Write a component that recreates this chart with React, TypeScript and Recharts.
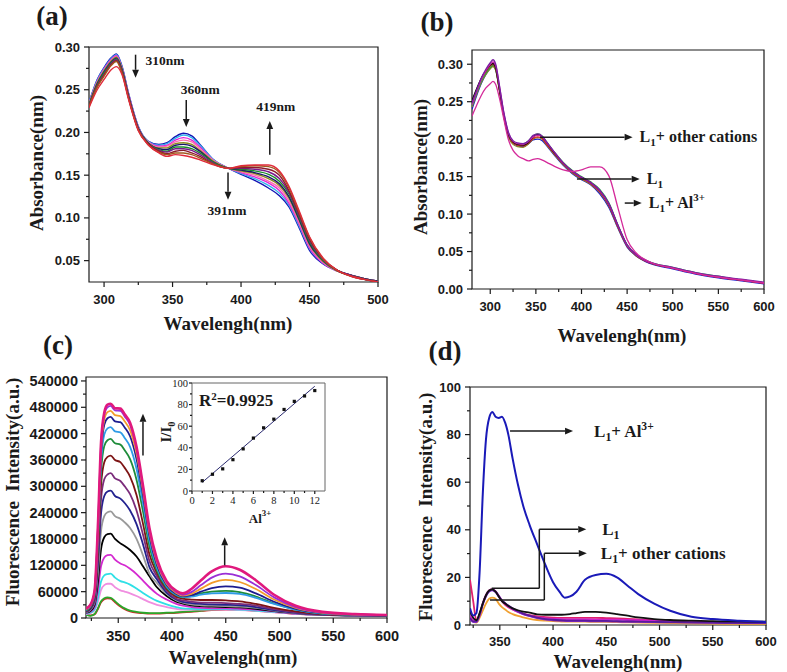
import React from "react";
import {
  LineChart,
  ComposedChart,
  Line,
  Scatter,
  XAxis,
  YAxis,
  ReferenceLine,
  ReferenceArea,
} from "recharts";

const SERIF = '"Liberation Serif", "Times New Roman", Times, serif';
const SANS = '"Liberation Sans", Arial, Helvetica, sans-serif';
const INK = "#1a1a1a";

// ---------- (a) absorbance titration ----------
const A_WL = [289, 295, 300, 305, 309, 313, 318, 325, 332, 340, 346, 352, 358, 364, 370, 380, 391, 400, 410, 420, 428, 435, 442, 450, 460, 470, 480, 490, 500];
const A_BLUE = [0.235, 0.262, 0.276, 0.287, 0.292, 0.278, 0.245, 0.207, 0.19, 0.186, 0.188, 0.195, 0.199, 0.196, 0.186, 0.168, 0.158, 0.151, 0.144, 0.135, 0.126, 0.113, 0.09, 0.062, 0.046, 0.038, 0.033, 0.029, 0.026];
const A_CYAN = [0.235, 0.261, 0.275, 0.286, 0.291, 0.277, 0.244, 0.207, 0.19, 0.185, 0.187, 0.193, 0.197, 0.194, 0.185, 0.168, 0.158, 0.152, 0.146, 0.138, 0.129, 0.115, 0.092, 0.064, 0.047, 0.038, 0.033, 0.029, 0.026];
const A_MAGENTA = [0.234, 0.26, 0.274, 0.285, 0.29, 0.276, 0.244, 0.206, 0.189, 0.184, 0.185, 0.191, 0.194, 0.191, 0.183, 0.167, 0.158, 0.153, 0.148, 0.141, 0.132, 0.117, 0.094, 0.065, 0.047, 0.038, 0.033, 0.029, 0.026];
const A_PINK = [0.233, 0.259, 0.273, 0.284, 0.289, 0.275, 0.243, 0.206, 0.189, 0.183, 0.184, 0.189, 0.191, 0.189, 0.181, 0.167, 0.158, 0.154, 0.15, 0.143, 0.135, 0.12, 0.096, 0.067, 0.048, 0.038, 0.033, 0.029, 0.026];
const A_OLIVE = [0.233, 0.258, 0.272, 0.283, 0.288, 0.275, 0.242, 0.205, 0.188, 0.182, 0.182, 0.187, 0.188, 0.186, 0.179, 0.166, 0.158, 0.155, 0.152, 0.146, 0.138, 0.123, 0.099, 0.069, 0.049, 0.038, 0.033, 0.029, 0.026];
const A_NAVY = [0.232, 0.257, 0.271, 0.282, 0.287, 0.274, 0.242, 0.205, 0.188, 0.181, 0.18, 0.185, 0.186, 0.184, 0.178, 0.165, 0.158, 0.156, 0.153, 0.148, 0.14, 0.125, 0.1, 0.07, 0.05, 0.039, 0.033, 0.029, 0.026];
const A_GREEN = [0.232, 0.256, 0.27, 0.281, 0.286, 0.273, 0.241, 0.204, 0.188, 0.18, 0.178, 0.183, 0.183, 0.181, 0.176, 0.165, 0.158, 0.157, 0.155, 0.151, 0.143, 0.128, 0.102, 0.072, 0.05, 0.039, 0.033, 0.028, 0.025];
const A_PURPLE = [0.231, 0.255, 0.268, 0.28, 0.285, 0.272, 0.24, 0.204, 0.187, 0.179, 0.177, 0.181, 0.181, 0.179, 0.174, 0.164, 0.158, 0.158, 0.157, 0.154, 0.146, 0.13, 0.104, 0.074, 0.051, 0.039, 0.033, 0.028, 0.025];
const A_WINE = [0.231, 0.254, 0.267, 0.279, 0.284, 0.271, 0.24, 0.203, 0.187, 0.178, 0.175, 0.178, 0.179, 0.176, 0.172, 0.163, 0.158, 0.159, 0.159, 0.157, 0.15, 0.132, 0.106, 0.075, 0.052, 0.039, 0.032, 0.028, 0.025];
const A_BROWN = [0.23, 0.253, 0.266, 0.278, 0.283, 0.27, 0.239, 0.203, 0.186, 0.177, 0.174, 0.176, 0.176, 0.174, 0.17, 0.163, 0.158, 0.16, 0.161, 0.16, 0.153, 0.135, 0.108, 0.077, 0.052, 0.039, 0.032, 0.028, 0.025];
const A_RED = [0.229, 0.25, 0.262, 0.273, 0.277, 0.268, 0.238, 0.202, 0.186, 0.176, 0.172, 0.174, 0.173, 0.171, 0.168, 0.162, 0.158, 0.161, 0.162, 0.162, 0.155, 0.137, 0.11, 0.078, 0.053, 0.039, 0.032, 0.028, 0.025];
const A_SERIES = [A_BLUE, A_CYAN, A_MAGENTA, A_PINK, A_OLIVE, A_NAVY, A_GREEN, A_PURPLE, A_WINE, A_BROWN, A_RED];
const A_COLORS = ["#1414b4", "#2fb4ec", "#e025d8", "#ff6fb0", "#8c8c1e", "#16166e", "#1a8c2a", "#7a1a8c", "#8c1a2a", "#a05a1e", "#e02a3a"];
const A_X_MAJOR = [300, 350, 400, 450, 500];
const A_X_MINOR = [325, 375, 425, 475];
const A_Y_MAJOR = [0.05, 0.1, 0.15, 0.2, 0.25, 0.3];
const A_Y_MINOR = [0.075, 0.125, 0.175, 0.225, 0.275];

// ---------- (b) absorbance, selectivity ----------
const B_WL = [280, 285, 290, 295, 300, 303, 306, 310, 315, 320, 325, 330, 336, 342, 347, 352, 357, 362, 370, 380, 390, 400, 410, 420, 430, 440, 450, 460, 475, 500, 525, 550, 575, 600];
const B_BLUE = [0.24, 0.258, 0.274, 0.286, 0.295, 0.298, 0.293, 0.267, 0.232, 0.206, 0.195, 0.191, 0.19, 0.194, 0.199, 0.2, 0.198, 0.191, 0.179, 0.165, 0.154, 0.146, 0.139, 0.127, 0.109, 0.081, 0.056, 0.044, 0.034, 0.027, 0.02, 0.015, 0.011, 0.007];
const B_OLIVE = [0.243, 0.26, 0.275, 0.286, 0.294, 0.297, 0.292, 0.265, 0.229, 0.203, 0.193, 0.19, 0.189, 0.194, 0.2, 0.202, 0.2, 0.192, 0.18, 0.166, 0.155, 0.147, 0.14, 0.129, 0.111, 0.082, 0.057, 0.044, 0.035, 0.028, 0.021, 0.016, 0.012, 0.008];
const B_GREEN = [0.245, 0.262, 0.277, 0.288, 0.296, 0.299, 0.293, 0.266, 0.23, 0.205, 0.196, 0.193, 0.193, 0.198, 0.204, 0.207, 0.204, 0.196, 0.183, 0.169, 0.158, 0.15, 0.143, 0.133, 0.115, 0.085, 0.059, 0.046, 0.036, 0.029, 0.022, 0.017, 0.012, 0.008];
const B_RED = [0.25, 0.266, 0.28, 0.29, 0.298, 0.3, 0.294, 0.266, 0.23, 0.205, 0.195, 0.192, 0.191, 0.195, 0.201, 0.203, 0.201, 0.193, 0.181, 0.167, 0.156, 0.148, 0.141, 0.13, 0.112, 0.083, 0.058, 0.045, 0.035, 0.028, 0.021, 0.016, 0.012, 0.008];
const B_BLACK = [0.252, 0.267, 0.281, 0.291, 0.299, 0.301, 0.295, 0.267, 0.231, 0.206, 0.196, 0.193, 0.192, 0.196, 0.203, 0.206, 0.203, 0.195, 0.182, 0.168, 0.157, 0.149, 0.142, 0.131, 0.113, 0.084, 0.058, 0.045, 0.035, 0.028, 0.021, 0.016, 0.012, 0.008];
const B_MAGENTA = [0.246, 0.263, 0.279, 0.291, 0.3, 0.303, 0.298, 0.271, 0.234, 0.208, 0.197, 0.194, 0.193, 0.197, 0.203, 0.205, 0.203, 0.195, 0.183, 0.168, 0.157, 0.149, 0.142, 0.131, 0.113, 0.084, 0.058, 0.045, 0.035, 0.028, 0.021, 0.016, 0.012, 0.008];
const B_PURPLE = [0.248, 0.265, 0.281, 0.293, 0.302, 0.306, 0.3, 0.272, 0.235, 0.209, 0.198, 0.195, 0.194, 0.198, 0.205, 0.207, 0.204, 0.196, 0.183, 0.168, 0.157, 0.149, 0.142, 0.132, 0.114, 0.085, 0.059, 0.046, 0.036, 0.029, 0.022, 0.017, 0.013, 0.009];
const B_AL = [0.231, 0.245, 0.258, 0.268, 0.274, 0.277, 0.273, 0.255, 0.226, 0.199, 0.185, 0.178, 0.174, 0.171, 0.173, 0.174, 0.172, 0.169, 0.164, 0.159, 0.157, 0.159, 0.163, 0.163, 0.151, 0.108, 0.066, 0.048, 0.036, 0.028, 0.021, 0.016, 0.012, 0.008];
const B_SERIES = [B_BLUE, B_OLIVE, B_GREEN, B_RED, B_BLACK, B_MAGENTA, B_PURPLE, B_AL];
const B_COLORS = ["#1a1ad0", "#8a8a20", "#22aa44", "#dd2222", "#111111", "#cc22aa", "#7b1fa2", "#d42a9a"];
const B_X_MAJOR = [300, 350, 400, 450, 500, 550, 600];
const B_X_MINOR = [325, 375, 425, 475, 525, 575];
const B_Y_MAJOR = [0, 0.05, 0.1, 0.15, 0.2, 0.25, 0.3];
const B_Y_MINOR = [0.025, 0.075, 0.125, 0.175, 0.225, 0.275];

// ---------- (c) fluorescence titration ----------
const C_WL = [320, 324, 328, 331, 334, 337, 340, 343, 347, 352, 356, 361, 367, 373, 379, 386, 395, 404, 410, 418, 427, 437, 450, 463, 478, 495, 515, 540, 570, 600];
const C_RED2 = [10000, 6000, 8000, 20000, 36000, 43000, 45000, 44000, 36000, 26000, 20000, 15000, 12000, 11000, 10000, 10000, 11000, 12000, 13000, 14000, 16000, 18000, 19000, 18500, 16500, 13500, 9500, 7000, 5500, 5000];
const C_GREEN2 = [8000, 5000, 9000, 22000, 38000, 45000, 47000, 46000, 38000, 28000, 22000, 17000, 14000, 12000, 11000, 11000, 12000, 13000, 14000, 15000, 17000, 19000, 20000, 19000, 17000, 14000, 10000, 7000, 5500, 5000];
const C_PINK = [9000, 11000, 17000, 36000, 64000, 75000, 78000, 78000, 70000, 63000, 60000, 56000, 50000, 43000, 36000, 30000, 25000, 21000, 19000, 19000, 19000, 19000, 19000, 18000, 16000, 13000, 9500, 7000, 5500, 5000];
const C_CYAN = [10000, 12000, 20000, 45000, 83000, 97000, 100000, 101000, 92000, 84000, 81000, 76000, 67000, 57000, 48000, 39000, 31000, 25000, 22000, 21000, 20000, 20000, 20000, 19000, 17000, 14000, 10000, 7000, 5500, 5000];
const C_MAGENTA = [11000, 14000, 25000, 62000, 118000, 138000, 143000, 144000, 133000, 124000, 120000, 112000, 100000, 85000, 70000, 55000, 42000, 32000, 28000, 25000, 23000, 22000, 22000, 21000, 19000, 15000, 10000, 7000, 5500, 5000];
const C_BLACK = [12000, 16000, 30000, 80000, 157000, 184000, 191000, 192000, 180000, 170000, 164000, 155000, 140000, 118000, 95000, 70000, 50000, 37000, 33000, 29000, 27000, 26000, 25000, 24000, 21000, 16000, 11000, 7500, 6000, 5000];
const C_GRAY = [13000, 18000, 35000, 100000, 198000, 232000, 241000, 243000, 232000, 226000, 218000, 205000, 180000, 143000, 101000, 80000, 55000, 40000, 35000, 31000, 29000, 28000, 27000, 26000, 23000, 17000, 11000, 7500, 6000, 5000];
const C_NAVY2 = [14000, 20000, 40000, 120000, 238000, 278000, 288000, 290000, 278000, 272000, 262000, 245000, 214000, 168000, 116000, 88000, 58000, 42000, 37000, 34000, 32000, 31000, 30000, 29000, 25000, 18000, 12000, 8000, 6000, 5500];
const C_PURPLE = [15000, 22000, 44000, 136000, 270000, 316000, 327000, 330000, 318000, 312000, 300000, 282000, 245000, 190000, 130000, 95000, 62000, 44000, 40000, 37000, 35000, 35000, 34000, 32000, 28000, 20000, 13000, 8500, 6500, 5500];
const C_WINE = [16000, 23000, 48000, 152000, 303000, 355000, 367000, 370000, 360000, 355000, 342000, 322000, 280000, 215000, 145000, 102000, 66000, 48000, 44000, 42000, 41000, 41000, 40000, 38000, 32000, 23000, 15000, 9000, 7000, 6000];
const C_GREEN = [17000, 25000, 52000, 168000, 334000, 392000, 405000, 408000, 398000, 395000, 382000, 362000, 315000, 243000, 163000, 108000, 69000, 52000, 47000, 50000, 56000, 60000, 62000, 59000, 49000, 33000, 19000, 10000, 7500, 6000];
const C_SKY = [18000, 26000, 55000, 178000, 355000, 418000, 432000, 435000, 425000, 423000, 410000, 390000, 340000, 262000, 176000, 114000, 72000, 53000, 48000, 49000, 53000, 56000, 57000, 55000, 46000, 32000, 19000, 10000, 7500, 6000];
const C_NAVY = [19000, 27000, 58000, 188000, 375000, 440000, 455000, 458000, 448000, 446000, 434000, 414000, 362000, 280000, 188000, 121000, 75000, 55000, 50000, 52000, 60000, 68000, 72000, 69000, 56000, 37000, 21000, 11000, 8000, 6000];
const C_ORANGE = [20000, 28000, 60000, 195000, 385000, 452000, 469000, 472000, 462000, 460000, 448000, 428000, 375000, 290000, 195000, 126000, 78000, 57000, 51000, 55000, 67000, 80000, 87000, 82000, 66000, 42000, 23000, 12000, 8000, 6500];
const C_VIOLET = [21000, 29000, 62000, 200000, 395000, 463000, 480000, 483000, 473000, 472000, 459000, 440000, 385000, 298000, 200000, 130000, 81000, 59000, 53000, 59000, 75000, 92000, 101000, 95000, 75000, 47000, 25000, 13000, 8500, 6500];
const C_ROSE = [22000, 30000, 63000, 205000, 400000, 468000, 486000, 488000, 478000, 477000, 464000, 445000, 390000, 302000, 205000, 134000, 84000, 62000, 56000, 66000, 86000, 106000, 118000, 110000, 86000, 53000, 28000, 14000, 9000, 7000];
const C_SERIES = [C_RED2, C_GREEN2, C_PINK, C_CYAN, C_MAGENTA, C_BLACK, C_GRAY, C_NAVY2, C_PURPLE, C_WINE, C_GREEN, C_SKY, C_NAVY, C_ORANGE, C_VIOLET, C_ROSE];
const C_COLORS = ["#d22a2a", "#2aa82a", "#f08ee0", "#2fe0e6", "#d42ad0", "#000000", "#9a9a9a", "#22228f", "#7b2c7b", "#7d1414", "#1e8c3a", "#2e9be6", "#1c1c8f", "#f39c2a", "#9a2fd6", "#e0197d"];
const C_X_MAJOR = [350, 400, 450, 500, 550, 600];
const C_X_MINOR = [325, 375, 425, 475, 525, 575];
const C_Y_MAJOR = [0, 60000, 120000, 180000, 240000, 300000, 360000, 420000, 480000, 540000];
const C_Y_MINOR = [30000, 90000, 150000, 210000, 270000, 330000, 390000, 450000, 510000];

// inset: I/I0 against Al3+
const INSET_X = [1, 2, 3, 4, 5, 6, 7, 8, 9, 10, 11, 12];
const INSET_Y = [9.5, 15.5, 20.5, 29, 39, 49, 58.5, 66.5, 75.5, 83, 88, 93];
const FIT_X = [1, 12];
const FIT_Y = [8, 97];
const IN_X_MAJOR = [0, 2, 4, 6, 8, 10, 12];
const IN_X_MINOR = [1, 3, 5, 7, 9, 11];
const IN_Y_MAJOR = [0, 20, 40, 60, 80, 100];
const IN_Y_MINOR = [10, 30, 50, 70, 90];

// ---------- (d) fluorescence, selectivity ----------
const D_WL = [322, 325, 328, 331, 334, 337, 340, 343, 346, 349, 352, 355, 358, 362, 367, 372, 378, 385, 393, 400, 406, 411, 416, 422, 430, 440, 450, 460, 470, 480, 495, 510, 530, 550, 575, 600];
const D_ORANGE = [3, 1.5, 1, 3, 6, 9, 11, 11.5, 11, 9, 7.5, 6.5, 5.5, 4.6, 3.8, 3.2, 2.6, 2.1, 1.8, 1.6, 1.5, 1.4, 1.4, 1.4, 1.4, 1.3, 1.3, 1.2, 1.1, 1, 0.9, 0.8, 0.7, 0.6, 0.5, 0.5];
const D_ROSE = [19, 10, 2, 4, 9, 12.5, 14.5, 15, 14, 12, 10, 8.5, 7.5, 6.5, 5.5, 4.8, 4.1, 3.6, 3.3, 3.1, 3, 3, 3, 3, 3, 3, 2.9, 2.8, 2.6, 2.4, 2.1, 1.8, 1.5, 1.3, 1.2, 1.1];
const D_MAGENTA = [4, 2, 1.5, 4.5, 9, 12.5, 14.5, 15, 14.2, 12.3, 10.3, 9, 7.8, 6.6, 5.5, 4.6, 3.8, 3.2, 2.8, 2.6, 2.5, 2.4, 2.4, 2.4, 2.4, 2.3, 2.3, 2.2, 2.1, 2, 1.8, 1.6, 1.4, 1.2, 1.1, 1];
const D_VIOLET = [2.5, 1.2, 1.2, 4, 8.5, 12, 14, 14.6, 13.8, 12, 10.2, 9, 8, 6.8, 5.6, 4.6, 3.7, 2.9, 2.3, 2, 1.8, 1.7, 1.6, 1.6, 1.6, 1.5, 1.5, 1.4, 1.3, 1.3, 1.2, 1.1, 1, 0.9, 0.8, 0.8];
const D_PURPLE = [3, 1.5, 1.5, 4.5, 9, 12.3, 14.2, 14.8, 14, 12.2, 10.4, 9.2, 8.2, 7, 5.8, 4.8, 3.9, 3.1, 2.5, 2.2, 2, 1.9, 1.8, 1.8, 1.8, 1.7, 1.7, 1.6, 1.5, 1.4, 1.3, 1.2, 1.1, 1, 0.9, 0.9];
const D_L1 = [6, 3, 2, 5, 9, 12.5, 14.5, 15, 14, 12, 10, 9, 8, 7, 6.2, 5.6, 5.2, 4.5, 4.3, 4.3, 4.3, 4.4, 4.6, 5, 5.5, 5.5, 5.2, 4.6, 3.9, 3.2, 2.5, 2.1, 1.8, 1.6, 1.5, 1.4];
const D_AL = [7, 4, 5, 22, 55, 78, 87, 89.5, 87.5, 87, 87.5, 85, 80, 70, 59, 50, 42, 34, 25, 18, 14, 11.5, 12, 14, 19, 21, 21.5, 20, 16.5, 13, 9, 6, 3.5, 2.5, 1.8, 1.3];
const D_SERIES = [D_ORANGE, D_ROSE, D_MAGENTA, D_VIOLET, D_PURPLE, D_L1, D_AL];
const D_COLORS = ["#f0a030", "#e0206e", "#cc22cc", "#8a30d0", "#5a1a9a", "#111111", "#1a1ab8"];
const D_X_MAJOR = [350, 400, 450, 500, 550, 600];
const D_X_MINOR = [325, 375, 425, 475, 525, 575];
const D_Y_MAJOR = [0, 20, 40, 60, 80, 100];
const D_Y_MINOR = [10, 30, 50, 70, 90];

// ---------- helpers ----------
const toRows = (wl: number[], series: number[][]) =>
  wl.map((w, i) => {
    const r: Record<string, number> = { wl: w };
    series.forEach((s, k) => (r["s" + k] = s[i]));
    return r;
  });

const allTicks = (a: number[], b: number[]) => [...a, ...b].sort((p, q) => p - q);

function BottomTick(props: any) {
  const { x, y, payload, majors, fs = 13, font = SANS, weight = 700, len = 5, minorLen = 3, base = 22 } = props;
  const v = payload.value;
  const major = majors.includes(v);
  return (
    <g>
      <line x1={x} x2={x} y1={y} y2={y + (major ? len : minorLen)} stroke={INK} strokeWidth={1.2} />
      {major && (
        <text x={x} y={y + base} textAnchor="middle" fontFamily={font} fontSize={fs} fontWeight={weight} fill={INK}>
          {String(v)}
        </text>
      )}
    </g>
  );
}

function LeftTick(props: any) {
  const { x, y, payload, majors, fmt = String, fs = 13, font = SANS, weight = 700, len = 5, minorLen = 3, gap = 4 } = props;
  const v = payload.value;
  const major = majors.includes(v);
  return (
    <g>
      <line x1={x - (major ? len : minorLen)} x2={x} y1={y} y2={y} stroke={INK} strokeWidth={1.2} />
      {major && (
        <text x={x - len - gap} y={y} dy="0.35em" textAnchor="end" fontFamily={font} fontSize={fs} fontWeight={weight} fill={INK}>
          {fmt(v)}
        </text>
      )}
    </g>
  );
}

type ArrowOpts = {
  head?: boolean;
  text?: React.ReactNode;
  at?: "start" | "end";
  dx?: number;
  dy?: number;
  anchor?: "start" | "middle" | "end";
  fs?: number;
};

const arrow = (o: ArrowOpts) => (p: any) => {
  const { x1, y1, x2, y2 } = p;
  const head = o.head !== false;
  const ang = Math.atan2(y2 - y1, x2 - x1);
  const L = 8;
  const Wd = 3.4;
  const bx = x2 - L * Math.cos(ang);
  const by = y2 - L * Math.sin(ang);
  const px = -Math.sin(ang) * Wd;
  const py = Math.cos(ang) * Wd;
  const ox = o.at === "start" ? x1 : x2;
  const oy = o.at === "start" ? y1 : y2;
  return (
    <g>
      <line x1={x1} y1={y1} x2={head ? bx : x2} y2={head ? by : y2} stroke={INK} strokeWidth={1.5} />
      {head && <polygon points={`${x2},${y2} ${bx + px},${by + py} ${bx - px},${by - py}`} fill={INK} />}
      {o.text && (
        <text
          x={ox + (o.dx ?? 0)}
          y={oy + (o.dy ?? 0)}
          textAnchor={o.anchor ?? "start"}
          fontFamily={SERIF}
          fontWeight={700}
          fontSize={o.fs ?? 16}
          fill={INK}
        >
          {o.text}
        </text>
      )}
    </g>
  );
};

const L1 = (rest: React.ReactNode) => (
  <>
    <tspan>L</tspan>
    <tspan fontSize="0.7em" dy={4}>1</tspan>
    <tspan dy={-4}>{rest}</tspan>
  </>
);
const L1Al = (
  <>
    <tspan>L</tspan>
    <tspan fontSize="0.7em" dy={4}>1</tspan>
    <tspan dy={-4}>+ Al</tspan>
    <tspan fontSize="0.68em" dy={-7}>3+</tspan>
  </>
);

function Txt({ x, y, size = 19, rot = false, children, weight = 700 }: any) {
  return (
    <div
      style={{
        position: "absolute",
        left: x,
        top: y,
        transform: `translate(-50%, -50%)${rot ? " rotate(-90deg)" : ""}`,
        fontFamily: SERIF,
        fontSize: size,
        fontWeight: weight,
        whiteSpace: "nowrap",
        lineHeight: 1,
        color: INK,
      }}
    >
      {children}
    </div>
  );
}

const Sub = ({ children }: any) => <span style={{ fontSize: "0.7em", position: "relative", top: 4 }}>{children}</span>;
const Sup = ({ children }: any) => <span style={{ fontSize: "0.68em", position: "relative", top: -7 }}>{children}</span>;

const seg = (x1: number, y1: number, x2: number, y2: number) => [
  { x: x1, y: y1 },
  { x: x2, y: y2 },
];

// ---------- panels ----------
function PanelA() {
  const rows = toRows(A_WL, A_SERIES);
  const xd = [289, 500];
  const yd = [0.025, 0.3];
  return (
    <div style={{ position: "absolute", left: 39, top: 37 }}>
      <LineChart width={359} height={275} data={rows} margin={{ top: 10, right: 20, bottom: 0, left: 0 }}>
        <XAxis dataKey="wl" type="number" domain={xd} allowDataOverflow ticks={allTicks(A_X_MAJOR, A_X_MINOR)} interval={0} height={30} axisLine={false} tickLine={false} tickSize={0} tickMargin={0} tick={<BottomTick majors={A_X_MAJOR} />} />
        <YAxis type="number" domain={yd} allowDataOverflow ticks={allTicks(A_Y_MAJOR, A_Y_MINOR)} interval={0} width={50} axisLine={false} tickLine={false} tickSize={0} tickMargin={0} tick={<LeftTick majors={A_Y_MAJOR} fmt={(v: number) => v.toFixed(2)} />} />
        <ReferenceArea x1={xd[0]} x2={xd[1]} y1={yd[0]} y2={yd[1]} fill="none" stroke={INK} strokeWidth={1.2} ifOverflow="visible" />
        {A_SERIES.map((_, k) => (
          <Line key={k} dataKey={"s" + k} type="monotone" stroke={A_COLORS[k]} strokeWidth={1.4} dot={false} activeDot={false} isAnimationActive={false} />
        ))}
        <ReferenceLine segment={seg(323, 0.291, 323, 0.264)} ifOverflow="visible" shape={arrow({ text: "310nm", at: "start", dx: 10, dy: 10, fs: 13.5 })} />
        <ReferenceLine segment={seg(360, 0.238, 360, 0.2065)} ifOverflow="visible" shape={arrow({ text: "360nm", at: "start", dx: 14, dy: -6, anchor: "middle", fs: 13.5 })} />
        <ReferenceLine segment={seg(421, 0.174, 421, 0.2135)} ifOverflow="visible" shape={arrow({ text: "419nm", at: "end", dx: 6, dy: -10, anchor: "middle", fs: 13.5 })} />
        <ReferenceLine segment={seg(390.5, 0.153, 390.5, 0.1213)} ifOverflow="visible" shape={arrow({ text: "391nm", at: "end", dx: -1, dy: 15, anchor: "middle", fs: 13.5 })} />
      </LineChart>
    </div>
  );
}

function PanelB() {
  const rows = toRows(B_WL, B_SERIES);
  const xd = [280, 600];
  const yd = [0, 0.319];
  return (
    <div style={{ position: "absolute", left: 422, top: 40 }}>
      <LineChart width={362} height={279} data={rows} margin={{ top: 10, right: 20, bottom: 0, left: 0 }}>
        <XAxis dataKey="wl" type="number" domain={xd} allowDataOverflow ticks={allTicks(B_X_MAJOR, B_X_MINOR)} interval={0} height={30} axisLine={false} tickLine={false} tickSize={0} tickMargin={0} tick={<BottomTick majors={B_X_MAJOR} />} />
        <YAxis type="number" domain={yd} allowDataOverflow ticks={allTicks(B_Y_MAJOR, B_Y_MINOR)} interval={0} width={50} axisLine={false} tickLine={false} tickSize={0} tickMargin={0} tick={<LeftTick majors={B_Y_MAJOR} fmt={(v: number) => v.toFixed(2)} />} />
        <ReferenceArea x1={xd[0]} x2={xd[1]} y1={yd[0]} y2={yd[1]} fill="none" stroke={INK} strokeWidth={1.2} ifOverflow="visible" />
        {B_SERIES.map((_, k) => (
          <Line key={k} dataKey={"s" + k} type="monotone" stroke={B_COLORS[k]} strokeWidth={1.3} dot={false} activeDot={false} isAnimationActive={false} />
        ))}
        <ReferenceLine segment={seg(354.5, 0.2027, 456, 0.2027)} ifOverflow="visible" shape={arrow({ text: L1("+ other cations"), dx: 7, dy: 5 })} />
        <ReferenceLine segment={seg(395, 0.1467, 463.8, 0.1467)} ifOverflow="visible" shape={arrow({ text: L1(""), dx: 7, dy: 5 })} />
        <ReferenceLine segment={seg(447.4, 0.1147, 466, 0.1147)} ifOverflow="visible" shape={arrow({ text: L1Al, dx: 7, dy: 5 })} />
      </LineChart>
    </div>
  );
}

function PanelC() {
  const rows = toRows(C_WL, C_SERIES);
  const xd = [320, 600];
  const yd = [0, 549000];
  return (
    <div style={{ position: "absolute", left: 16, top: 367 }}>
      <LineChart width={391} height={281} data={rows} margin={{ top: 10, right: 20, bottom: 0, left: 0 }}>
        <XAxis dataKey="wl" type="number" domain={xd} allowDataOverflow ticks={allTicks(C_X_MAJOR, C_X_MINOR)} interval={0} height={30} axisLine={false} tickLine={false} tickSize={0} tickMargin={0} tick={<BottomTick majors={C_X_MAJOR} fs={14.5} base={23} />} />
        <YAxis type="number" domain={yd} allowDataOverflow ticks={allTicks(C_Y_MAJOR, C_Y_MINOR)} interval={0} width={70} axisLine={false} tickLine={false} tickSize={0} tickMargin={0} tick={<LeftTick majors={C_Y_MAJOR} fs={14.5} gap={3} />} />
        <ReferenceArea x1={xd[0]} x2={xd[1]} y1={yd[0]} y2={yd[1]} fill="none" stroke={INK} strokeWidth={1.2} ifOverflow="visible" />
        {C_SERIES.map((_, k) => (
          <Line key={k} dataKey={"s" + k} type="monotone" stroke={C_COLORS[k]} strokeWidth={k === C_SERIES.length - 1 ? 2.6 : 1.8} dot={false} activeDot={false} isAnimationActive={false} />
        ))}
        <ReferenceLine segment={seg(373, 370000, 373, 465000)} ifOverflow="visible" shape={arrow({})} />
        <ReferenceLine segment={seg(449, 120000, 449, 184000)} ifOverflow="visible" shape={arrow({})} />
      </LineChart>
    </div>
  );
}

function Inset() {
  const pts = INSET_X.map((x, i) => ({ x, y: INSET_Y[i] }));
  const fit = FIT_X.map((x, i) => ({ x, y: FIT_Y[i] }));
  const xd = [0, 13];
  const yd = [0, 100];
  return (
    <div style={{ position: "absolute", left: 167, top: 378 }}>
      <ComposedChart width={164} height={133} margin={{ top: 5, right: 6, bottom: 0, left: 0 }}>
        <XAxis dataKey="x" type="number" domain={xd} allowDataOverflow ticks={allTicks(IN_X_MAJOR, IN_X_MINOR)} interval={0} height={20} axisLine={false} tickLine={false} tickSize={0} tickMargin={0} tick={<BottomTick majors={IN_X_MAJOR} fs={10.5} font={SERIF} weight={400} len={3} minorLen={2} base={13} />} />
        <YAxis dataKey="y" type="number" domain={yd} allowDataOverflow ticks={allTicks(IN_Y_MAJOR, IN_Y_MINOR)} interval={0} width={25} axisLine={false} tickLine={false} tickSize={0} tickMargin={0} tick={<LeftTick majors={IN_Y_MAJOR} fs={10.5} font={SERIF} weight={400} len={3} minorLen={2} gap={1} />} />
        <ReferenceArea x1={xd[0]} x2={xd[1]} y1={yd[0]} y2={yd[1]} fill="none" stroke="#666" strokeWidth={1} ifOverflow="visible" />
        <Line data={fit} dataKey="y" type="linear" stroke="#2b2b70" strokeWidth={1} dot={false} activeDot={false} isAnimationActive={false} />
        <Scatter data={pts} dataKey="y" isAnimationActive={false} shape={(p: any) => <rect x={p.cx - 1.6} y={p.cy - 1.6} width={3.2} height={3.2} fill="#111" />} />
      </ComposedChart>
    </div>
  );
}

function PanelD() {
  const rows = toRows(D_WL, D_SERIES);
  const xd = [322, 600];
  const yd = [0, 100];
  return (
    <div style={{ position: "absolute", left: 420, top: 377 }}>
      <LineChart width={366} height={278} data={rows} margin={{ top: 10, right: 20, bottom: 0, left: 0 }}>
        <XAxis dataKey="wl" type="number" domain={xd} allowDataOverflow ticks={allTicks(D_X_MAJOR, D_X_MINOR)} interval={0} height={30} axisLine={false} tickLine={false} tickSize={0} tickMargin={0} tick={<BottomTick majors={D_X_MAJOR} base={21} />} />
        <YAxis type="number" domain={yd} allowDataOverflow ticks={allTicks(D_Y_MAJOR, D_Y_MINOR)} interval={0} width={50} axisLine={false} tickLine={false} tickSize={0} tickMargin={0} tick={<LeftTick majors={D_Y_MAJOR} />} />
        <ReferenceArea x1={xd[0]} x2={xd[1]} y1={yd[0]} y2={yd[1]} fill="none" stroke={INK} strokeWidth={1.2} ifOverflow="visible" />
        {D_SERIES.map((_, k) => (
          <Line key={k} dataKey={"s" + k} type="monotone" stroke={D_COLORS[k]} strokeWidth={k === D_SERIES.length - 1 ? 2 : 1.8} dot={false} activeDot={false} isAnimationActive={false} />
        ))}
        <ReferenceLine segment={seg(359.6, 81.5, 418.8, 81.5)} ifOverflow="visible" shape={arrow({ text: L1Al, dx: 21, dy: 6, fs: 17 })} />
        <ReferenceLine segment={seg(342.4, 15.4, 387.1, 15.4)} ifOverflow="visible" shape={arrow({ head: false })} />
        <ReferenceLine segment={seg(387.1, 15.4, 387.1, 40.2)} ifOverflow="visible" shape={arrow({ head: false })} />
        <ReferenceLine segment={seg(387.1, 40.2, 431.2, 40.2)} ifOverflow="visible" shape={arrow({ text: L1(""), dx: 16, dy: 6, fs: 17 })} />
        <ReferenceLine segment={seg(340.8, 10.5, 391.8, 10.5)} ifOverflow="visible" shape={arrow({ head: false })} />
        <ReferenceLine segment={seg(391.8, 10.5, 391.8, 30.1)} ifOverflow="visible" shape={arrow({ head: false })} />
        <ReferenceLine segment={seg(391.8, 30.1, 431.7, 30.1)} ifOverflow="visible" shape={arrow({ text: L1("+ other cations"), dx: 14, dy: 6, fs: 17 })} />
      </LineChart>
    </div>
  );
}

export default function App() {
  return (
    <div style={{ position: "absolute", left: 0, top: 0, width: 787, height: 672, background: "#fff", overflow: "hidden" }}>
      <PanelA />
      <PanelB />
      <PanelC />
      <Inset />
      <PanelD />

      <Txt x={52} y={16} size={27}>(a)</Txt>
      <Txt x={437} y={22} size={27}>(b)</Txt>
      <Txt x={58} y={345} size={27}>(c)</Txt>
      <Txt x={445} y={351} size={27}>(d)</Txt>

      <Txt x={36} y={163} rot>Absorbance(nm)</Txt>
      <Txt x={228} y={323}>Wavelengh(nm)</Txt>
      <Txt x={420} y={167} rot>Absorbance(nm)</Txt>
      <Txt x={622} y={335}>Wavelengh(nm)</Txt>
      <Txt x={12} y={492} rot>Fluorescence&nbsp; Intensity(a.u.)</Txt>
      <Txt x={233} y={657}>Wavelengh(nm)</Txt>
      <Txt x={425} y={507} rot>Fluorescence&nbsp; Intensity(a.u.)</Txt>
      <Txt x={618} y={661}>Wavelengh(nm)</Txt>

      <Txt x={166} y={432} size={15} rot>
        I/I<Sub>0</Sub>
      </Txt>
      <Txt x={260} y={518} size={13}>
        Al<Sup>3+</Sup>
      </Txt>
      <div style={{ position: "absolute", left: 199, top: 392, fontFamily: SERIF, fontWeight: 700, fontSize: 17, whiteSpace: "nowrap", lineHeight: 1, color: INK }}>
        R<span style={{ fontSize: 11, position: "relative", top: -6 }}>2</span>=0.9925
      </div>
    </div>
  );
}
